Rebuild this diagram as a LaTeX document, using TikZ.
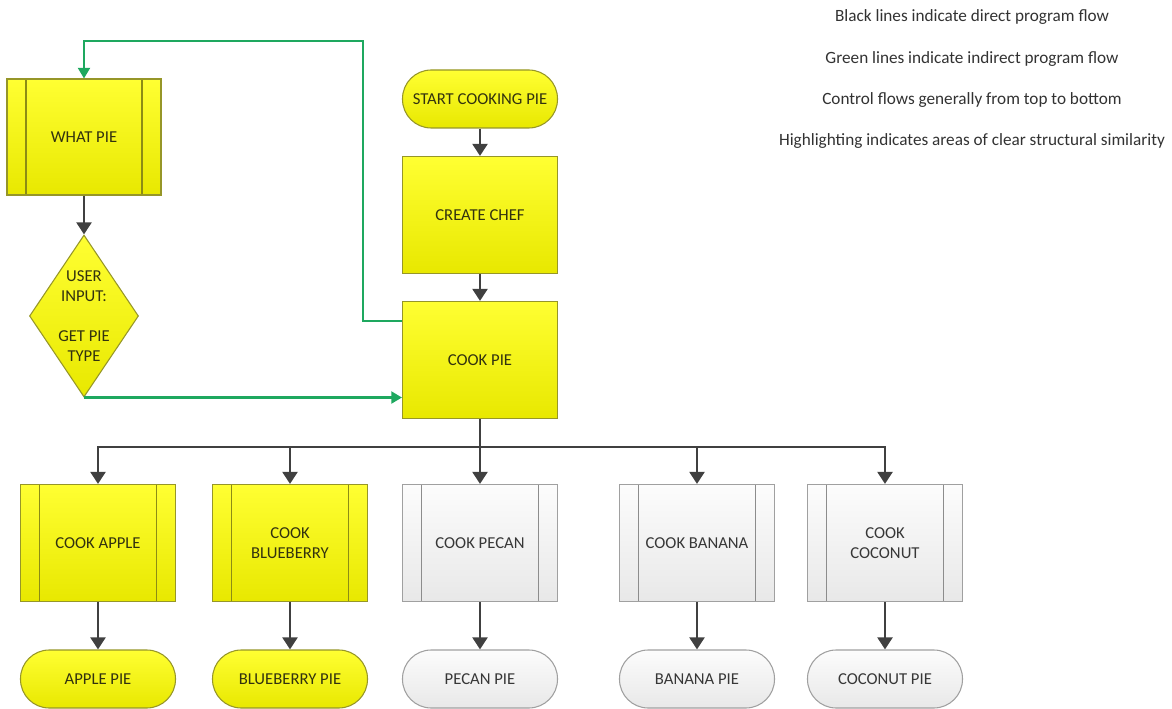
\documentclass[tikz,border=0pt]{standalone}
\usepackage{fontspec}
\setmainfont{Carlito}
\usetikzlibrary{shapes.geometric,arrows.meta,calc}
\definecolor{ytop}{RGB}{255,255,50}
\definecolor{ybot}{RGB}{232,232,0}
\definecolor{yborder}{RGB}{150,150,40}
\definecolor{yline}{RGB}{140,140,20}
\definecolor{ytext}{RGB}{50,50,15}
\definecolor{gtop}{RGB}{252,252,252}
\definecolor{gbot}{RGB}{232,232,232}
\definecolor{gborder}{RGB}{160,160,160}
\definecolor{gline}{RGB}{140,140,140}
\definecolor{gtext}{RGB}{55,55,55}
\definecolor{arrowcol}{RGB}{64,64,64}
\definecolor{flowgreen}{RGB}{30,168,95}
\definecolor{legendtext}{RGB}{50,50,50}
\begin{document}
\begin{tikzpicture}[x=0.75pt,y=-0.75pt,
  base/.style={line width=0.8pt, align=center, font=\fontsize{12.5}{15}\selectfont},
  yfill/.style={base, draw=yborder, top color=ytop, bottom color=ybot, text=ytext},
  gfill/.style={base, draw=gborder, top color=gtop, bottom color=gbot, text=gtext},
  boxshape/.style={rectangle, minimum width=116.25pt, minimum height=87.75pt, inner sep=2pt},
  termshape/.style={rectangle, rounded corners=21.5pt, minimum width=116.25pt, minimum height=43.5pt, inner sep=2pt},
  sub/.style={path picture={
    \draw[line width=0.8pt, draw=#1]
      ([xshift=14.25pt]path picture bounding box.north west) -- ([xshift=14.25pt]path picture bounding box.south west)
      ([xshift=-14.25pt]path picture bounding box.north east) -- ([xshift=-14.25pt]path picture bounding box.south east);}},
  yproc/.style={yfill, boxshape},
  ysub/.style={yfill, boxshape, sub=yline},
  gsub/.style={gfill, boxshape, sub=gline},
  yterm/.style={yfill, termshape},
  gterm/.style={gfill, termshape},
  flow/.style={draw=arrowcol, line width=2.2pt, line join=miter, -{Triangle[length=9pt,width=11pt]}},
  plainflow/.style={draw=arrowcol, line width=2.2pt},
  gflow/.style={draw=flowgreen, line width=1.7pt, line join=miter, -{Triangle[length=8pt,width=9pt]}},
  legend/.style={text=legendtext, font=\fontsize{12.9}{15}\selectfont}
]
\useasboundingbox (0,0) rectangle (1172,709);

% legend
\node[legend] (l1) at (972,17) {Black lines indicate direct program flow};
\node[legend] (l2) at (972,59) {Green lines indicate indirect program flow};
\node[legend] (l3) at (972,100) {Control flows generally from top to bottom};
\node[legend] (l4) at (972,141) {Highlighting indicates areas of clear structural similarity};

% main column
\node[yterm] (start) at (480,99) {START COOKING PIE};
\node[yproc] (chef) at (480,215) {CREATE CHEF};
\node[yproc] (cookpie) at (480,360) {COOK PIE};

% left column
\node[ysub, minimum width=115.5pt, minimum height=87pt] (whatpie) at (84,137) {WHAT PIE};
\node[diamond, draw=yborder, line width=0.8pt, top color=ytop, bottom color=ybot,
      minimum width=81.75pt, minimum height=121.5pt, inner sep=0pt,
      label={[text=ytext, align=center, font=\fontsize{12.5}{15}\selectfont]center:USER\\INPUT:\\[15pt]GET PIE\\TYPE}] (input) at (84,316) {};

% pies
\node[ysub] (apple) at (98,543) {COOK APPLE};
\node[ysub] (blueberry) at (290,543) {COOK\\BLUEBERRY};
\node[gsub] (pecan) at (480,543) {COOK PECAN};
\node[gsub] (banana) at (697,543) {COOK BANANA};
\node[gsub] (coconut) at (885,543) {COOK\\COCONUT};

\node[yterm] (applepie) at (98,679) {APPLE PIE};
\node[yterm] (blueberrypie) at (290,679) {BLUEBERRY PIE};
\node[gterm] (pecanpie) at (480,679) {PECAN PIE};
\node[gterm] (bananapie) at (697,679) {BANANA PIE};
\node[gterm] (coconutpie) at (885,679) {COCONUT PIE};

% black connectors
\draw[flow] (start) -- (chef);
\draw[flow] (chef) -- (cookpie);
\draw[flow] (whatpie) -- (input);
\coordinate (bus) at (480,447);
\draw[plainflow] (cookpie.south) -- (bus);
\draw[flow] (bus) -| (apple.north);
\draw[flow] (bus) -| (blueberry.north);
\draw[flow] (bus) -- (pecan.north);
\draw[flow] (bus) -| (banana.north);
\draw[flow] (bus) -| (coconut.north);
\draw[flow] (apple) -- (applepie);
\draw[flow] (blueberry) -- (blueberrypie);
\draw[flow] (pecan) -- (pecanpie);
\draw[flow] (banana) -- (bananapie);
\draw[flow] (coconut) -- (coconutpie);

% green connectors
\draw[gflow] (input.south) -- (input.south -| cookpie.west);
\coordinate (gcorner) at (363,41);
\draw[gflow] ([yshift=29.25pt]cookpie.west) -| (gcorner) -| (whatpie.north);
\end{tikzpicture}
\end{document}
